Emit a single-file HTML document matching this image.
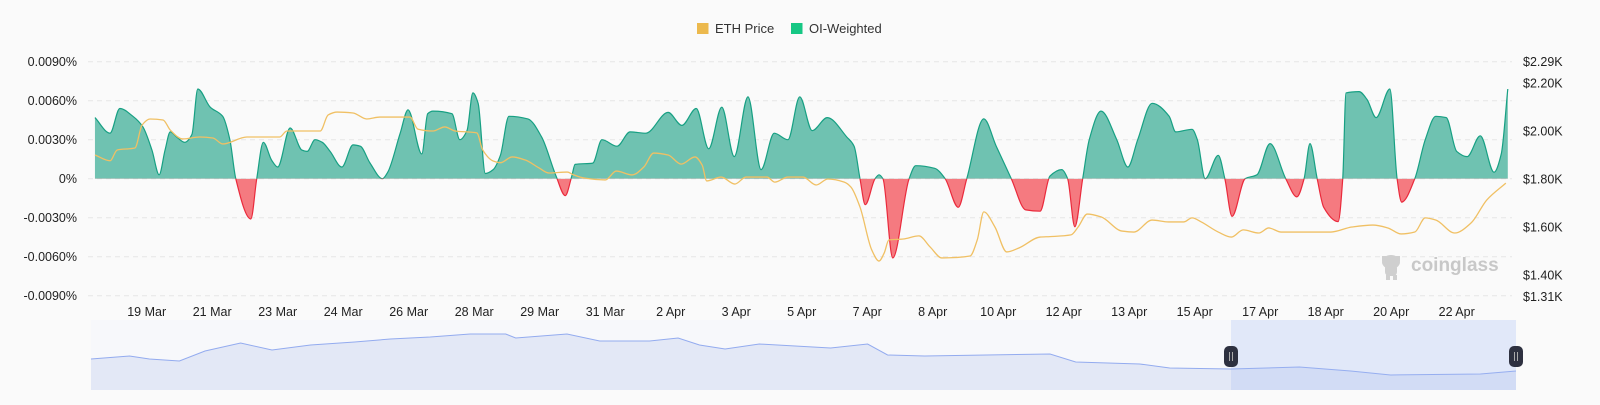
<!DOCTYPE html>
<html><head><meta charset="utf-8">
<style>
html,body{margin:0;padding:0;background:#fafafa;}
body{width:1600px;height:400px;overflow:hidden;font-family:"Liberation Sans",sans-serif;}
svg text{font-family:"Liberation Sans",sans-serif;}
</style></head>
<body>
<svg id="chart" width="1600" height="400" viewBox="0 0 1600 400" xmlns="http://www.w3.org/2000/svg">
<rect x="0" y="0" width="1600" height="400" fill="#fafafa"/>
<defs>
<clipPath id="clipPos"><rect x="0" y="0" width="1600" height="178.7"/></clipPath>
<clipPath id="clipNeg"><rect x="0" y="178.7" width="1600" height="222"/></clipPath>
</defs>
<g id="legend">
 <g>
  <rect x="697" y="23" width="11.5" height="11" fill="#ecb94d"/>
  <text x="715" y="33" font-size="13" fill="#333">ETH Price</text>
 </g>
 <g>
  <rect x="791" y="23" width="11.5" height="11" fill="#16c784"/>
  <text x="809" y="33" font-size="13" fill="#333">OI-Weighted</text>
 </g>
</g>
<g id="grid"></g>
<g id="leftAxis"></g>
<g id="rightAxis"></g>
<g id="xAxis"></g>
<g>
 <g fill="#cfcfcf">
  <ellipse cx="1391" cy="262" rx="9" ry="7"/>
  <rect x="1385" y="264" width="12" height="12" rx="4"/>
  <rect x="1382" y="256" width="4" height="5"/><rect x="1396" y="256" width="4" height="5"/>
  <rect x="1386" y="275" width="4" height="5"/><rect x="1393" y="275" width="4" height="5"/>
 </g>
 <text x="1411" y="271" font-size="19" font-weight="bold" fill="#c8c8c8">coinglass</text>
</g>
<g id="series"></g>
<g id="nav"></g>
</svg>
<script>
// ---- data ----
// x positions are in axis-label units (19 Mar label = 1, each label step = 1)
const xLabels = ["19 Mar","21 Mar","23 Mar","24 Mar","26 Mar","28 Mar","29 Mar","31 Mar","2 Apr","3 Apr","5 Apr","7 Apr","8 Apr","10 Apr","12 Apr","13 Apr","15 Apr","17 Apr","18 Apr","20 Apr","22 Apr"];
const leftTicks = [0.009,0.006,0.003,0,-0.003,-0.006,-0.009];
const leftTickLabels = ["0.0090%","0.0060%","0.0030%","0%","-0.0030%","-0.0060%","-0.0090%"];
const rightTicks = [2290,2200,2000,1800,1600,1400,1310];
const rightTickLabels = ["$2.29K","$2.20K","$2.00K","$1.80K","$1.60K","$1.40K","$1.31K"];
const oiT = [0.21,0.44,0.59,0.79,0.94,1.08,1.19,1.28,1.36,1.46,1.58,1.69,1.78,1.97,2.16,2.27,2.36,2.59,2.68,2.78,2.91,3.00,3.19,3.37,3.45,3.57,3.68,3.80,3.98,4.15,4.26,4.41,4.60,4.68,4.87,4.99,5.20,5.29,5.37,5.66,5.78,5.89,5.98,6.06,6.17,6.29,6.40,6.53,6.82,7.03,7.25,7.39,7.49,7.54,7.81,7.95,8.18,8.38,8.62,8.96,9.17,9.39,9.58,9.78,9.97,10.18,10.38,10.58,10.79,10.97,11.16,11.39,11.69,11.80,11.89,11.97,12.12,12.18,12.24,12.39,12.64,12.74,13.03,13.19,13.39,13.52,13.78,13.97,14.20,14.42,14.64,14.79,14.97,15.06,15.17,15.29,15.39,15.57,15.81,15.98,16.13,16.35,16.61,16.71,16.96,17.04,17.16,17.36,17.46,17.57,17.77,17.95,18.15,18.39,18.56,18.67,18.76,18.87,18.97,19.19,19.26,19.31,19.51,19.63,19.77,19.98,20.09,20.16,20.36,20.52,20.68,20.84,21.00,21.16,21.36,21.57,21.68,21.78];
// OI-weighted funding rate, in units of 0.001%
const oiV = [4.7,3.5,5.4,4.8,4.0,2.2,0.3,2.2,3.6,3.2,2.8,3.4,6.9,5.5,4.8,3.0,0,-3.1,0,2.8,1.4,0.9,3.9,2.2,2.1,3.0,2.8,2.1,0.9,2.6,2.5,1.2,0,0.5,3.5,5.3,1.9,5.0,5.2,5.0,3.0,3.7,6.6,5.8,0.4,0.7,1.8,4.8,4.6,3.2,0.2,-1.3,0.2,1.1,1.2,3.0,2.5,3.6,3.5,5.1,4.1,5.4,2.3,5.5,1.7,6.3,0.7,3.5,3.0,6.3,3.7,4.7,3.2,2.5,0,-2.0,0,0.3,0,-6.1,0,1.0,0.8,0,-2.2,0,4.6,2.5,0,-2.4,-2.5,0.2,0.7,0,-3.7,0,3.0,5.2,3.0,0.9,3.0,5.8,4.8,3.6,3.8,3.0,0,1.8,0,-2.9,0,0.3,2.7,0,-1.4,0,2.7,0,-2.2,-3.3,0,6.6,6.7,6.1,4.7,6.9,0,-1.8,0,3.0,4.8,4.7,2.1,1.7,3.3,0.5,1.9,6.9];
const priceT = [0.21,0.44,0.55,0.82,0.93,1.05,1.25,1.36,1.55,1.81,2.01,2.16,2.53,2.88,3.03,3.14,3.65,3.77,3.91,4.15,4.36,4.56,5.02,5.14,5.37,5.55,5.71,6.04,6.13,6.29,6.40,6.58,6.78,6.99,7.14,7.42,7.52,7.68,8.00,8.17,8.41,8.59,8.74,8.96,9.16,9.37,9.48,9.55,9.77,9.98,10.15,10.47,10.59,10.79,11.02,11.22,11.40,11.65,11.75,11.89,12.07,12.18,12.26,12.33,12.55,12.79,12.96,13.14,13.57,13.68,13.78,13.95,14.13,14.32,14.64,14.79,15.11,15.22,15.36,15.57,15.89,16.07,16.35,16.60,16.83,16.96,17.10,17.36,17.56,17.74,17.98,18.13,18.32,18.65,19.08,19.40,19.72,19.95,20.15,20.36,20.52,20.68,20.97,21.22,21.46,21.75];
const priceV = [1900,1876,1921,1929,2025,2050,2046,2004,1967,1975,1971,1946,1975,1975,1975,2000,2000,2067,2079,2075,2050,2058,2058,2008,2000,2017,2000,1992,1921,1875,1868,1892,1879,1846,1825,1829,1817,1804,1796,1833,1817,1850,1908,1900,1862,1892,1858,1792,1808,1779,1808,1808,1787,1808,1808,1775,1800,1787,1767,1683,1504,1458,1492,1546,1550,1563,1517,1471,1479,1546,1663,1600,1496,1513,1558,1560,1567,1600,1654,1642,1583,1579,1629,1621,1621,1638,1621,1579,1558,1588,1575,1596,1579,1579,1579,1600,1608,1596,1571,1579,1638,1629,1575,1617,1713,1783];
// navigator (full history, % of range / price)
const navT = [0,2.7,4.1,6.2,8.0,10.5,12.7,15.4,18.5,21.0,23.8,26.6,29.1,29.8,33.4,35.7,39.2,41.2,42.7,44.5,46.9,51.9,54.5,55.9,58.5,67.3,69.1,73.6,75.7,80.0,84.8,88.4,91.2,97.5,100];
const navV = [1620,1680,1620,1580,1780,1940,1800,1900,1960,2020,2060,2120,2120,2040,2120,1980,1980,2040,1900,1820,1920,1840,1920,1700,1680,1720,1560,1520,1440,1420,1460,1380,1300,1320,1380];
const navSelStart = 80.0, navSelEnd = 100;

// ---- scales ----
const NS = "http://www.w3.org/2000/svg";
const xS = t => 81.2 + t * 65.5;
const yL = v => 178.7 - v * 13;          // v in 0.001%
const yR = p => 179 - (p - 1800) * 0.24;
const nX = t => 91 + t * 14.25;
const nY = v => 390 - (v - 1000) * 0.05;
function mk(tag, attrs, parent){const e=document.createElementNS(NS,tag);for(const k in attrs)e.setAttribute(k,attrs[k]);parent.appendChild(e);return e;}

// monotone cubic path
function monoPath(xs, ys){
  const n=xs.length, d=[], m=[];
  for(let i=0;i<n-1;i++) d.push((ys[i+1]-ys[i])/(xs[i+1]-xs[i]));
  m[0]=d[0]; m[n-1]=d[n-2];
  for(let i=1;i<n-1;i++){ if(d[i-1]*d[i]<=0) m[i]=0; else { const h0=xs[i]-xs[i-1],h1=xs[i+1]-xs[i]; m[i]=3*(h0+h1)/((2*h1+h0)/d[i-1]+(h1+2*h0)/d[i]); } }
  let p="M"+xs[0].toFixed(2)+","+ys[0].toFixed(2);
  for(let i=0;i<n-1;i++){ const h=(xs[i+1]-xs[i])/3;
    p+=" C"+(xs[i]+h).toFixed(2)+","+(ys[i]+m[i]*h).toFixed(2)+" "+(xs[i+1]-h).toFixed(2)+","+(ys[i+1]-m[i+1]*h).toFixed(2)+" "+xs[i+1].toFixed(2)+","+ys[i+1].toFixed(2);}
  return p;
}

// grid + left axis
const grid=document.getElementById('grid'), la=document.getElementById('leftAxis');
leftTicks.forEach((v,i)=>{
  const g=mk('line',{x1:88,x2:1512,y1:yL(v*1000),y2:yL(v*1000),stroke:'#e6e6e6','stroke-width':1,'stroke-dasharray':'5,4'},grid);
  
  
  const t=mk('text',{x:77,y:yL(v*1000)+4.5,'text-anchor':'end','font-size':12.5,fill:'#222'},la);
  t.textContent=leftTickLabels[i];
  
  
});
const ra=document.getElementById('rightAxis');
rightTicks.forEach((p,i)=>{
  const t=mk('text',{x:1523,y:yR(p)+4.5,'font-size':12.5,fill:'#222'},ra);
  t.textContent=rightTickLabels[i];
  
  
});
const xa=document.getElementById('xAxis');
xLabels.forEach((l,i)=>{
  const t=mk('text',{x:xS(i+1),y:316,'text-anchor':'middle','font-size':12.5,fill:'#222'},xa);
  t.textContent=l;
  
  
});

// series
const sg=document.getElementById('series');
const ox=oiT.map(xS), oy=oiV.map(yL);
const line=monoPath(ox,oy);
const area=line+" L"+ox[ox.length-1].toFixed(2)+","+yL(0)+" L"+ox[0].toFixed(2)+","+yL(0)+" Z";
const ap=mk('path',{d:area,fill:'#6fc2b1','clip-path':'url(#clipPos)'},sg);


const an=mk('path',{d:area,fill:'#f57a80','clip-path':'url(#clipNeg)'},sg);


const lp=mk('path',{d:line,fill:'none',stroke:'#17a083','stroke-width':1.2,'clip-path':'url(#clipPos)'},sg);


const ln=mk('path',{d:line,fill:'none',stroke:'#ea2a3c','stroke-width':1.2,'clip-path':'url(#clipNeg)'},sg);


const pp=mk('path',{d:monoPath(priceT.map(xS),priceV.map(yR)),fill:'none',stroke:'#f0c064','stroke-width':1.3},sg);



// navigator
const nav=document.getElementById('nav');
const nb=mk('rect',{x:91,y:320,width:1425,height:70,fill:'#f7f8fb'},nav);


const nxs=navT.map(nX), nys=navV.map(nY);
let np="M"+nxs[0]+","+nys[0]; for(let i=1;i<nxs.length;i++) np+=" L"+nxs[i].toFixed(1)+","+nys[i].toFixed(1);
const na=mk('path',{d:np+" L"+nxs[nxs.length-1]+",390 L"+nxs[0]+",390 Z",fill:'#e3e8f6'},nav);


const nl=mk('path',{d:np,fill:'none',stroke:'#93abef','stroke-width':1},nav);


const sel=mk('rect',{x:nX(navSelStart),y:320,width:nX(navSelEnd)-nX(navSelStart),height:70,fill:'rgba(160,185,245,0.25)'},nav);


[navSelStart,navSelEnd].forEach((s,i)=>{
  const h=mk('g',{},nav);
  
  
  mk('rect',{x:nX(s)-7,y:346,width:14,height:21,rx:5,fill:'#2e3140'},h);
  mk('line',{x1:nX(s)-1.5,x2:nX(s)-1.5,y1:352,y2:361,stroke:'#aaa','stroke-width':1},h);
  mk('line',{x1:nX(s)+1.5,x2:nX(s)+1.5,y1:352,y2:361,stroke:'#aaa','stroke-width':1},h);
});
</script>
</body></html>
